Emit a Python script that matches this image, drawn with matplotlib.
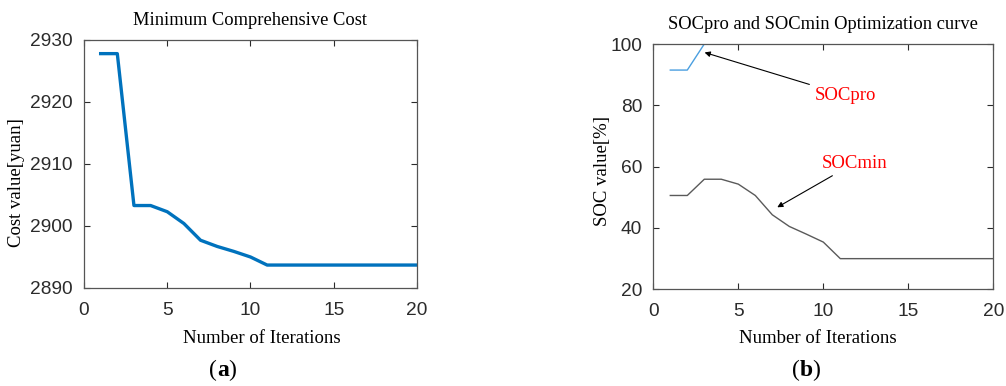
import matplotlib
matplotlib.use("Agg")
import matplotlib.pyplot as plt

# iteration axis and read-off values
iters = list(range(1, 21))
cost = [2927.8, 2927.8, 2903.3, 2903.3, 2902.3, 2900.4, 2897.7, 2896.7, 2895.9, 2895.0,
        2893.7, 2893.7, 2893.7, 2893.7, 2893.7, 2893.7, 2893.7, 2893.7, 2893.7, 2893.7]
soc_pro = [91.5, 91.5, 100, 100, 100, 100, 100, 100, 100, 100,
           100, 100, 100, 100, 100, 100, 100, 100, 100, 100]
soc_min = [50.6, 50.6, 55.9, 55.9, 54.3, 50.6, 44.3, 40.5, 38.0, 35.4,
           30.0, 30.0, 30.0, 30.0, 30.0, 30.0, 30.0, 30.0, 30.0, 30.0]

SERIF = "Liberation Serif"
SANS = "Liberation Sans"
TICK_C = "#2b2b2b"

fig = plt.figure(figsize=(10.06, 3.86), dpi=100)
ax1 = fig.add_axes([0.0835, 0.2539, 0.331, 0.6425])
ax2 = fig.add_axes([0.6494, 0.2505, 0.338, 0.6355])


def style(ax):
    ax.tick_params(direction="in", top=True, right=True, length=4, width=0.8,
                   colors=TICK_C, labelsize=13.8)
    ax.tick_params(axis="x", pad=10)
    ax.tick_params(axis="y", pad=8)
    for lab in ax.get_xticklabels() + ax.get_yticklabels():
        lab.set_fontfamily(SANS)
    for s in ax.spines.values():
        s.set_color("#555555")
        s.set_linewidth(0.9)


ax1.plot(iters, cost, color="#0072BD", lw=2.4)
ax1.set_xlim(0, 20)
ax1.set_ylim(2890, 2930)
ax1.set_xticks([0, 5, 10, 15, 20])
ax1.set_yticks([2890, 2900, 2910, 2920, 2930])
style(ax1)
ax1.set_title("Minimum Comprehensive Cost", family=SERIF, fontsize=13.3, pad=11)
ax1.set_xlabel("Number of Iterations", family=SERIF, fontsize=13.5)
ax1.set_ylabel("Cost value[yuan]", family=SERIF, fontsize=13.5)
ax1.xaxis.set_label_coords(0.533, -0.169)
ax1.yaxis.set_label_coords(-0.178, 0.427)

ax2.plot(iters, soc_pro, color="#4A9FE0", lw=1.0)
ax2.plot(iters, soc_min, color="#5A5A5A", lw=1.0)
ax2.set_xlim(0, 20)
ax2.set_ylim(20, 100)
ax2.set_xticks([0, 5, 10, 15, 20])
ax2.set_yticks([20, 40, 60, 80, 100])
style(ax2)
ax2.set_title("SOCpro and SOCmin Optimization curve", family=SERIF, fontsize=13.3, pad=11)
ax2.set_xlabel("Number of Iterations", family=SERIF, fontsize=13.5)
ax2.set_ylabel("SOC value[%]", family=SERIF, fontsize=13.5)
ax2.xaxis.set_label_coords(0.485, -0.166)
ax2.yaxis.set_label_coords(-0.124, 0.482)

arrow = dict(arrowstyle="-|>", color="black", lw=0.8, mutation_scale=8)
ax2.annotate("SOCpro", xy=(2.86, 97.5), xytext=(9.5, 86), color="red", family=SERIF,
             fontsize=13.5, ha="left", va="top", arrowprops=arrow)
ax2.annotate("SOCmin", xy=(7.15, 46.3), xytext=(9.9, 58.4), color="red", family=SERIF,
             fontsize=13.5, ha="left", va="bottom", arrowprops=arrow)

fig.text(217 / 1006, 1 - 370 / 386, "(", family=SERIF, fontsize=17, ha="right", va="center")
fig.text(217 / 1006, 1 - 370 / 386, "a", family=SERIF, fontsize=17, weight="bold", ha="left", va="center")
fig.text(217 / 1006 + 0.011, 1 - 370 / 386, ")", family=SERIF, fontsize=17, ha="left", va="center")
fig.text(800 / 1006, 1 - 370 / 386, "(", family=SERIF, fontsize=17, ha="right", va="center")
fig.text(800 / 1006, 1 - 370 / 386, "b", family=SERIF, fontsize=17, weight="bold", ha="left", va="center")
fig.text(800 / 1006 + 0.0125, 1 - 370 / 386, ")", family=SERIF, fontsize=17, ha="left", va="center")

fig.savefig("out.png", dpi=100)
